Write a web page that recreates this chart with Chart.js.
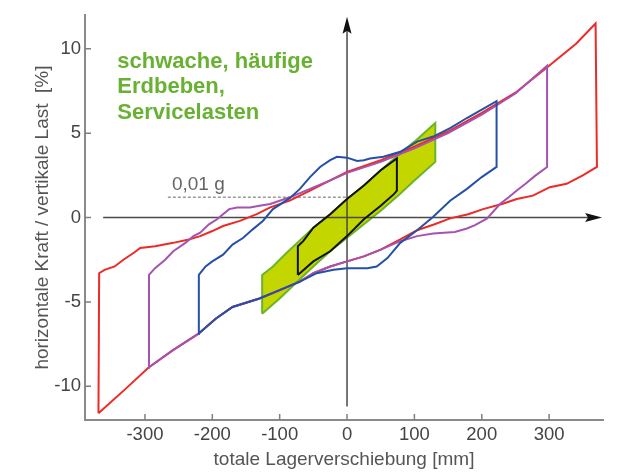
<!DOCTYPE html>
<html>
<head>
<meta charset="utf-8">
<script src="https://cdn.jsdelivr.net/npm/chart.js@4.4.0/dist/chart.umd.min.js"></script>
<style>
  html, body { margin: 0; padding: 0; background: #fff; }
  canvas { display: block; }
</style>
</head>
<body>
<canvas id="grafico" width="618" height="473"></canvas>
<script>
// Achsen
const xTicks = [-300, -200, -100, 0, 100, 200, 300];
const yTicks = [-10, -5, 0, 5, 10];

// rote Schleife (grösste Verschiebung)
const rotX = [-369, -368, -360, -345, -332, -317, -307, -285, -258, -235, -218, -200, -184, -159, -134, -114, -85, -55, -25, 0, 50, 100, 150, 200, 250, 300, 340, 369, 371, 350, 326, 301, 276, 252, 230, 202, 180, 153, 130, 104, 79, 50, 25, 0, -25, -50, -70, -100, -130, -170, -195, -221, -260, -295, -330, -369];
const rotY = [-11.6, -3.3, -3.1, -2.9, -2.5, -2.1, -1.8, -1.7, -1.5, -1.3, -1.1, -0.8, -0.5, -0.2, 0.2, 0.6, 1.0, 1.6, 2.2, 2.7, 3.4, 4.2, 5.1, 6.2, 7.4, 9.0, 10.3, 11.5, 3.0, 2.5, 2.0, 1.8, 1.3, 1.1, 0.8, 0.5, 0.2, -0.05, -0.4, -0.75, -1.3, -1.9, -2.3, -2.6, -2.9, -3.3, -3.8, -4.3, -4.8, -5.3, -6.0, -6.9, -7.9, -8.9, -10.2, -11.6];

// violette Schleife
const violettX = [-295, -294, -285, -270, -258, -240, -228, -218, -205, -193, -175, -163, -144, -130, -114, -85, -55, -25, 0, 50, 100, 150, 200, 250, 297, 297, 280, 265, 252, 240, 227, 208, 190, 178, 160, 128, 104, 79, 50, 25, 0, -25, -50, -70, -100, -130, -170, -195, -221, -260, -295];
const violettY = [-8.9, -3.4, -3.0, -2.5, -2.0, -1.5, -1.1, -0.9, -0.4, -0.1, 0.5, 0.6, 0.6, 0.7, 0.8, 1.2, 1.7, 2.2, 2.65, 3.3, 4.1, 5.0, 6.1, 7.35, 9.0, 3.0, 2.5, 2.0, 1.6, 1.2, 0.8, -0.05, -0.45, -0.65, -0.85, -0.95, -1.1, -1.4, -1.9, -2.3, -2.6, -2.9, -3.3, -3.8, -4.3, -4.8, -5.3, -6.0, -6.9, -7.9, -8.9];

// blaue Schleife
const blauX = [-221, -220, -210, -200, -184, -170, -154, -140, -125, -110, -85, -70, -55, -40, -25, -15, 0, 15, 25, 34, 54, 79, 104, 128, 153, 178, 200, 222, 222, 200, 178, 153, 128, 104, 79, 60, 44, 30, 19, 0, -20, -45, -70, -100, -130, -170, -195, -221];
const blauY = [-6.9, -3.4, -2.9, -2.6, -2.2, -1.6, -1.2, -0.7, -0.2, 0.5, 1.15, 1.7, 2.4, 3.0, 3.4, 3.6, 3.55, 3.35, 3.4, 3.5, 3.6, 3.9, 4.5, 4.8, 5.3, 5.9, 6.4, 6.9, 3.0, 2.4, 1.7, 1.0, 0.05, -0.75, -1.5, -2.4, -2.9, -3.0, -3.0, -3.0, -3.1, -3.3, -3.8, -4.3, -4.8, -5.3, -6.0, -6.9];

// grüne Fläche (Servicelasten)
const gruenX = [-126, -126, -110, -90, -74, -50, -25, 0, 25, 50, 76, 100, 131, 131, 100, 76, 50, 25, 0, -25, -50, -74, -100, -126];
const gruenY = [-5.7, -3.4, -2.9, -2.1, -1.5, -0.6, 0.2, 1.1, 1.9, 2.8, 3.7, 4.5, 5.6, 3.3, 2.2, 1.3, 0.4, -0.4, -1.2, -2.0, -2.9, -3.8, -4.8, -5.7];

// schwarze Schleife
const schwarzX = [-73, -73, -65, -50, -25, 0, 25, 50, 74, 74, 70, 50, 25, 0, -25, -50, -73];
const schwarzY = [-3.4, -1.7, -1.4, -0.6, 0.2, 1.1, 1.9, 2.8, 3.5, 1.6, 1.4, 0.7, -0.1, -1.1, -2.0, -2.6, -3.4];

// 0,01 g Linie
const strichX = [-266, 19];
const strichY = [1.2, 1.2];

const punkte = (xs, ys) => xs.map((x, i) => ({ x: x, y: ys[i] }));
const schrift = "'Liberation Sans', Arial, sans-serif";

function pfeil(ctx, x, y, dx, dy) {
  const len = 17, half = 4.5;
  const bx = x - dx * len, by = y - dy * len;
  ctx.beginPath();
  ctx.moveTo(x, y);
  ctx.lineTo(bx - dy * half, by + dx * half);
  ctx.lineTo(bx + dx * 3, by + dy * 3);
  ctx.lineTo(bx + dy * half, by - dx * half);
  ctx.closePath();
  ctx.fill();
}

const achsenPlugin = {
  id: "achsen",
  afterDatasetDraw(chart, args) {
    if (args.index !== 0) return;
    const { ctx, scales: { x, y } } = chart;
    const x0 = x.getPixelForValue(0), y0 = y.getPixelForValue(0);
    ctx.save();
    ctx.strokeStyle = "#4a4a4a";
    ctx.fillStyle = "#111";
    ctx.lineWidth = 1.5;
    ctx.beginPath();
    ctx.moveTo(x.getPixelForValue(-362), y0);
    ctx.lineTo(x.getPixelForValue(370), y0);
    ctx.moveTo(x0, y.getPixelForValue(-11.2));
    ctx.lineTo(x0, y.getPixelForValue(11.5));
    ctx.stroke();
    pfeil(ctx, x.getPixelForValue(378.6), y0, 1, 0);
    pfeil(ctx, x0, y.getPixelForValue(11.9), 0, -1);
    ctx.restore();
  },
  afterDraw(chart) {
    const { ctx, chartArea, scales: { x, y } } = chart;
    ctx.save();
    // Ticks nach innen
    ctx.strokeStyle = "#808080";
    ctx.lineWidth = 1.5;
    ctx.beginPath();
    xTicks.forEach(v => {
      const px = x.getPixelForValue(v);
      ctx.moveTo(px, chartArea.bottom);
      ctx.lineTo(px, chartArea.bottom - 6);
    });
    yTicks.forEach(v => {
      const py = y.getPixelForValue(v);
      ctx.moveTo(chartArea.left, py);
      ctx.lineTo(chartArea.left + 6, py);
    });
    ctx.stroke();

    // 0,01 g
    ctx.fillStyle = "#666";
    ctx.font = "19px " + schrift;
    ctx.textBaseline = "middle";
    ctx.textAlign = "left";
    ctx.fillText("0,01 g", x.getPixelForValue(-260), y.getPixelForValue(1.95));

    // grüner Text
    ctx.fillStyle = "#69b132";
    ctx.font = "bold 22px " + schrift;
    const tx = x.getPixelForValue(-341);
    ["schwache, häufige", "Erdbeben,", "Servicelasten"].forEach((t, i) => {
      ctx.fillText(t, tx, y.getPixelForValue(9.25) + i * 25.5);
    });
    ctx.restore();
  }
};

const linie = (daten, farbe, ordnung) => ({
  data: daten,
  showLine: true,
  borderColor: farbe,
  borderWidth: 2,
  pointRadius: 0,
  tension: 0,
  fill: false,
  order: ordnung
});

new Chart(document.getElementById("grafico").getContext("2d"), {
  type: "scatter",
  data: {
    datasets: [
      Object.assign(linie(punkte(gruenX, gruenY), "#6ab42a", 6), { fill: "shape", backgroundColor: "#c4d600" }),
      linie(punkte(rotX, rotY), "#ec2a26", 5),
      linie(punkte(violettX, violettY), "#a453b0", 4),
      linie(punkte(blauX, blauY), "#2650a6", 3),
      linie(punkte(schwarzX, schwarzY), "#111111", 2),
      Object.assign(linie(punkte(strichX, strichY), "#9a9a9a", 7), { borderWidth: 1.5, borderDash: [3, 2] })
    ]
  },
  options: {
    responsive: false,
    animation: false,
    layout: { padding: { top: 7, right: 15, left: 0, bottom: 0 } },
    plugins: { legend: { display: false }, tooltip: { enabled: false } },
    scales: {
      x: {
        type: "linear",
        min: -389,
        max: 380,
        afterBuildTicks: s => { s.ticks = xTicks.map(v => ({ value: v })); },
        afterFit: s => { s.height = 53; },
        grid: { drawOnChartArea: false, drawTicks: false },
        border: { color: "#8a8a8a", width: 2 },
        ticks: { font: { family: schrift, size: 18.5 }, color: "#444", padding: 4 },
        title: {
          display: true,
          text: "totale Lagerverschiebung [mm]",
          font: { family: schrift, size: 19 },
          color: "#555",
          padding: { top: 0, bottom: 1.5 }
        }
      },
      y: {
        min: -12,
        max: 12,
        afterBuildTicks: s => { s.ticks = yTicks.map(v => ({ value: v })); },
        afterFit: s => { s.width = 85; },
        grid: { drawOnChartArea: false, drawTicks: false },
        border: { color: "#8a8a8a", width: 2 },
        ticks: { font: { family: schrift, size: 18.5 }, color: "#444", padding: 4 },
        title: {
          display: true,
          text: "horizontale Kraft / vertikale Last  [%]",
          font: { family: schrift, size: 19 },
          color: "#555",
          padding: { top: 31.5, bottom: 0 }
        }
      }
    }
  },
  plugins: [achsenPlugin]
});
</script>
</body>
</html>
